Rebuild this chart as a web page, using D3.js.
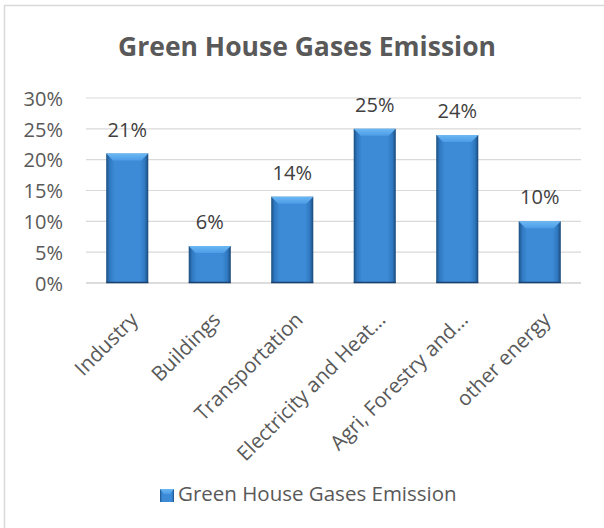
<!DOCTYPE html>
<html><head><meta charset="utf-8">
<script src="https://cdn.jsdelivr.net/npm/d3@7"></script>
<style>body{margin:0;background:#fff}svg{display:block}text{font-family:"Open Sans",sans-serif}</style>
</head><body>
<svg id="c" width="604" height="528"></svg>
<script>
const categories = ["Industry","Buildings","Transportation","Electricity and Heat…","Agri, Forestry and…","other energy"];
const values = [0.21,0.06,0.14,0.25,0.24,0.10];
const yTicks = [0,0.05,0.10,0.15,0.20,0.25,0.30];
const seriesName = "Green House Gases Emission";
const title = "Green House Gases Emission";

const svg = d3.select("#c");
const defs = svg.append("defs");
const g1 = defs.append("linearGradient").attr("id","barG").attr("x1","0").attr("x2","1").attr("y1","0").attr("y2","0");
[["0%","#1c4e7f"],["8%","#2f78c0"],["20%","#3d8bd6"],["80%","#3d8bd6"],["92%","#2f78c0"],["100%","#1a4776"]]
  .forEach(([o,c])=>g1.append("stop").attr("offset",o).attr("stop-color",c));
const g2 = defs.append("linearGradient").attr("id","topG").attr("x1","0").attr("x2","0").attr("y1","0").attr("y2","1");
[["0%","#6cb8f4"],["100%","#4c9ce6"]].forEach(([o,c])=>g2.append("stop").attr("offset",o).attr("stop-color",c));

svg.append("rect").attr("x",4.5).attr("y",5.5).attr("width",620).attr("height",540)
  .attr("fill","none").attr("stroke","#d9d9d9").attr("stroke-width",1.5);

const L=86,R=581,T=98,B=283;
const x = d3.scaleBand().domain(categories).range([L,R]).paddingInner(0.49).paddingOuter(0.245);
const y = d3.scaleLinear().domain([0,0.30]).range([B,T]);

// gridlines
svg.append("g").selectAll("line").data(yTicks).join("line")
  .attr("x1",L).attr("x2",R).attr("y1",d=>y(d)).attr("y2",d=>y(d))
  .attr("stroke",d=>d===0?"#d0d0d0":"#d9d9d9").attr("stroke-width",d=>d===0?1.5:1.2);

// y axis labels
const yAxis = d3.axisLeft(y).tickValues(yTicks).tickFormat(d3.format(".0%")).tickSize(0).tickPadding(0);
const ya = svg.append("g").attr("transform",`translate(63,0)`).call(yAxis);
ya.select(".domain").remove();
ya.selectAll("text").attr("font-size",20).attr("fill","#595959").attr("font-family","Open Sans, sans-serif").attr("dy","0.36em");

// bars
const bars = svg.append("g").selectAll("g").data(categories).join("g");
bars.append("rect").attr("x",d=>x(d)).attr("y",(d,i)=>y(values[i])).attr("width",x.bandwidth())
  .attr("height",(d,i)=>B-y(values[i])).attr("fill","url(#barG)");
bars.append("path").attr("d",(d,i)=>{
  const x0=x(d), x1=x0+x.bandwidth(), t=y(values[i]), h=7, s=7;
  return `M${x0},${t}L${x1},${t}L${x1-s},${t+h}L${x0+s},${t+h}Z`;
}).attr("fill","url(#topG)");
bars.append("line").attr("x1",d=>x(d)).attr("x2",d=>x(d)+x.bandwidth())
  .attr("y1",B-0.5).attr("y2",B-0.5).attr("stroke","#1a4270").attr("stroke-width",1.5);

// data labels
svg.append("g").selectAll("text").data(categories).join("text")
  .attr("x",d=>x(d)+x.bandwidth()/2).attr("y",(d,i)=>y(values[i])-17)
  .attr("text-anchor","middle").attr("font-size",20).attr("fill","#404040")
  .text((d,i)=>d3.format(".0%")(values[i]));

// x axis labels
const xAxis = d3.axisBottom(x).tickSize(0).tickPadding(0);
const xa = svg.append("g").attr("transform",`translate(0,${B})`).call(xAxis);
xa.select(".domain").remove();
xa.selectAll("text").attr("font-size",20.5).attr("fill","#595959").attr("font-family","Open Sans, sans-serif")
  .attr("text-anchor","end").attr("dy",0).attr("y",0)
  .attr("transform","translate(12,38) rotate(-45)");

// title
svg.append("text").attr("x",307).attr("y",56).attr("text-anchor","middle")
  .attr("font-size",26.5).attr("font-weight","bold").attr("fill","#595959").text(title);

// legend
const lg = svg.append("g").attr("transform","translate(160,489)");
lg.append("rect").attr("width",14).attr("height",13).attr("fill","url(#barG)");
lg.append("path").attr("d","M0,0L14,0L10,5L4,5Z").attr("fill","url(#topG)");
lg.append("text").attr("x",18).attr("y",11.5).attr("font-size",20.5).attr("fill","#595959").text(seriesName);
</script>
</body></html>
